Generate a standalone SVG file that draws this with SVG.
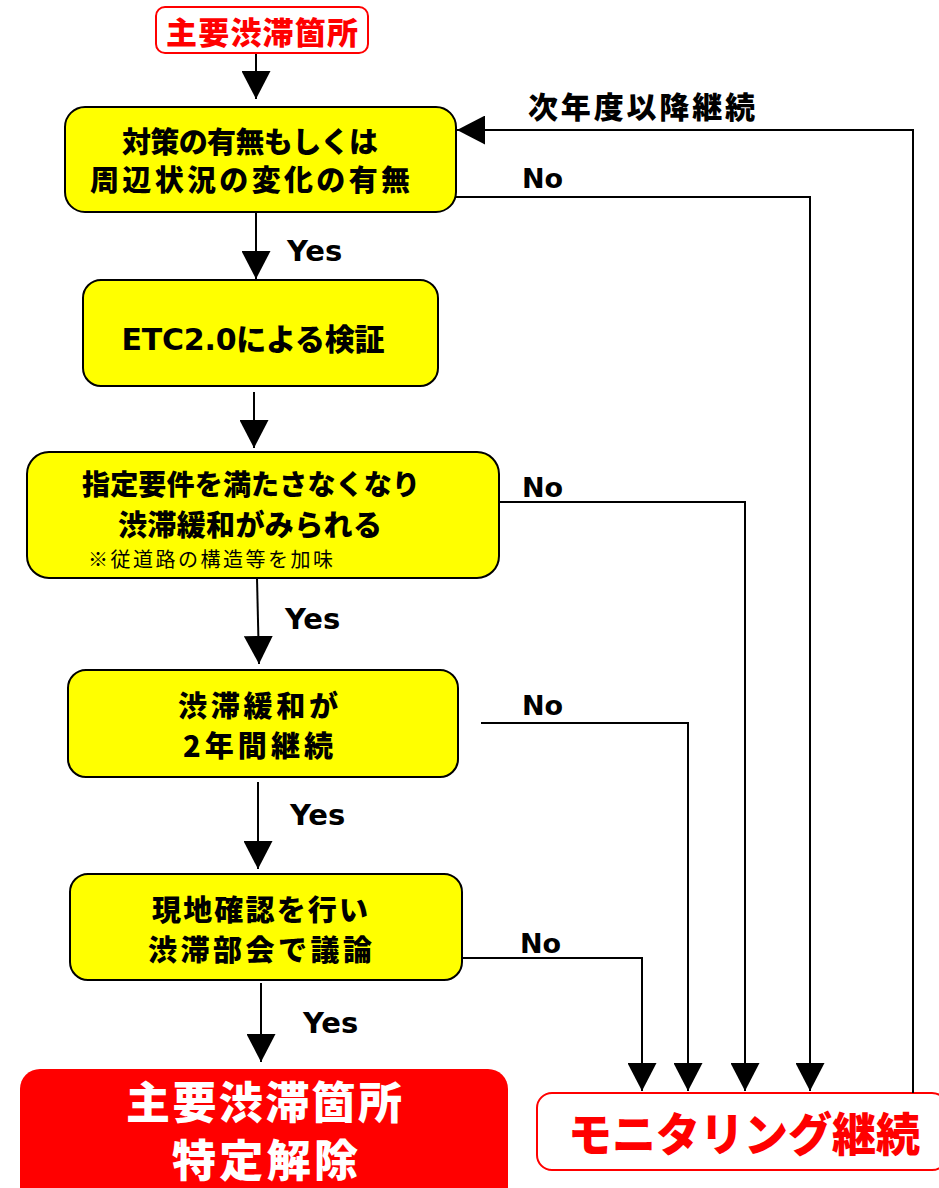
<svg xmlns="http://www.w3.org/2000/svg" width="939" height="1188" viewBox="0 0 939 1188">
<style>
.box{fill:#FFFF00;stroke:#000;stroke-width:2}
.jp{font-family:"Noto Sans CJK JP","DejaVu Sans",sans-serif;font-weight:900;fill:#000;text-anchor:middle}
.lbl{font-family:"DejaVu Sans","Noto Sans CJK JP",sans-serif;font-weight:bold;fill:#000}
.note{font-family:"Noto Sans CJK JP",sans-serif;font-weight:normal;fill:#000}
.conn{fill:none;stroke:#000;stroke-width:2}
</style>
<defs>
<marker id="ah" viewBox="0 0 28 29" refX="28" refY="14.5" markerWidth="28" markerHeight="29" markerUnits="userSpaceOnUse" orient="auto">
<path d="M0,0 L28,14.5 L0,29 Z" fill="#000"/>
</marker>
</defs>
<rect width="939" height="1188" fill="#fff"/>

<g id="start">
<rect x="156" y="7" width="212" height="46" rx="9" fill="#fff" stroke="#FF0000" stroke-width="2"/>
<text class="jp" x="262" y="44" font-size="31" style="fill:#FF0000" textLength="192">主要渋滞箇所</text>
</g>

<g id="box1">
<rect class="box" x="65" y="107" width="391" height="105" rx="20"/>
<text class="jp" x="250" y="153" font-size="29" textLength="256">対策の有無もしくは</text>
<text class="jp" x="250" y="191" font-size="29" textLength="320">周辺状況の変化の有無</text>
</g>

<g id="box2">
<rect class="box" x="83" y="280" width="355" height="106" rx="18"/>
<text class="jp" x="253" y="350" font-size="30" textLength="263"><tspan style="font-family:'DejaVu Sans';font-weight:bold">ETC2.0</tspan>による検証</text>
</g>

<g id="box3">
<rect class="box" x="27" y="452" width="472" height="126" rx="22"/>
<text class="jp" x="251" y="495" font-size="28" textLength="338">指定要件を満たさなくなり</text>
<text class="jp" x="250" y="536" font-size="29" textLength="264">渋滞緩和がみられる</text>
<text class="note" x="88" y="567" font-size="20" textLength="245">※従道路の構造等を加味</text>
</g>

<g id="box4">
<rect class="box" x="68" y="670" width="390" height="107" rx="18"/>
<text class="jp" x="258" y="717" font-size="29" textLength="160">渋滞緩和が</text>
<text class="jp" x="258" y="757" font-size="29" textLength="150">2年間継続</text>
</g>

<g id="box5">
<rect class="box" x="70" y="874" width="392" height="106" rx="18"/>
<text class="jp" x="260" y="921" font-size="29" textLength="216">現地確認を行い</text>
<text class="jp" x="260" y="961" font-size="29" textLength="224">渋滞部会で議論</text>
</g>

<g id="end-release">
<rect x="20" y="1069" width="488" height="140" rx="20" fill="#FF0000"/>
<text class="jp" x="264" y="1119" font-size="44" style="fill:#fff" textLength="276">主要渋滞箇所</text>
<text class="jp" x="265" y="1177" font-size="44" style="fill:#fff" textLength="186">特定解除</text>
</g>

<g id="end-monitor">
<rect x="537" y="1093" width="410" height="77" rx="15" fill="#fff" stroke="#FF0000" stroke-width="2"/>
<text class="jp" x="744" y="1151" font-size="46" style="fill:#FF0000" textLength="352" lengthAdjust="spacingAndGlyphs">モニタリング継続</text>
</g>

<g id="connectors">
<line class="conn" x1="256" y1="54" x2="256" y2="99" marker-end="url(#ah)"/>
<line class="conn" x1="256" y1="213" x2="256" y2="279" marker-end="url(#ah)"/>
<line class="conn" x1="254" y1="392" x2="254" y2="448" marker-end="url(#ah)"/>
<line class="conn" x1="257" y1="578" x2="259" y2="664" marker-end="url(#ah)"/>
<line class="conn" x1="258" y1="782" x2="258" y2="869" marker-end="url(#ah)"/>
<line class="conn" x1="261" y1="983" x2="261" y2="1062" marker-end="url(#ah)"/>
<polyline class="conn" points="456,197 810,197 810,1091" marker-end="url(#ah)"/>
<polyline class="conn" points="499,502 745,502 745,1091" marker-end="url(#ah)"/>
<polyline class="conn" points="481,723 688,723 688,1091" marker-end="url(#ah)"/>
<polyline class="conn" points="462,958 642,958 642,1091" marker-end="url(#ah)"/>
<polyline class="conn" points="913,1093 913,130 457,130" marker-end="url(#ah)"/>
<text class="lbl" x="287" y="261" font-size="29">Yes</text>
<text class="lbl" x="285" y="629" font-size="29">Yes</text>
<text class="lbl" x="290" y="825" font-size="29">Yes</text>
<text class="lbl" x="303" y="1033" font-size="29">Yes</text>
<text class="lbl" x="522" y="188" font-size="27">No</text>
<text class="lbl" x="522" y="497" font-size="27">No</text>
<text class="lbl" x="522" y="715" font-size="27">No</text>
<text class="lbl" x="520" y="953" font-size="27">No</text>
<text class="jp" x="528" y="118" font-size="30" style="text-anchor:start" textLength="227">次年度以降継続</text>
</g>
</svg>
